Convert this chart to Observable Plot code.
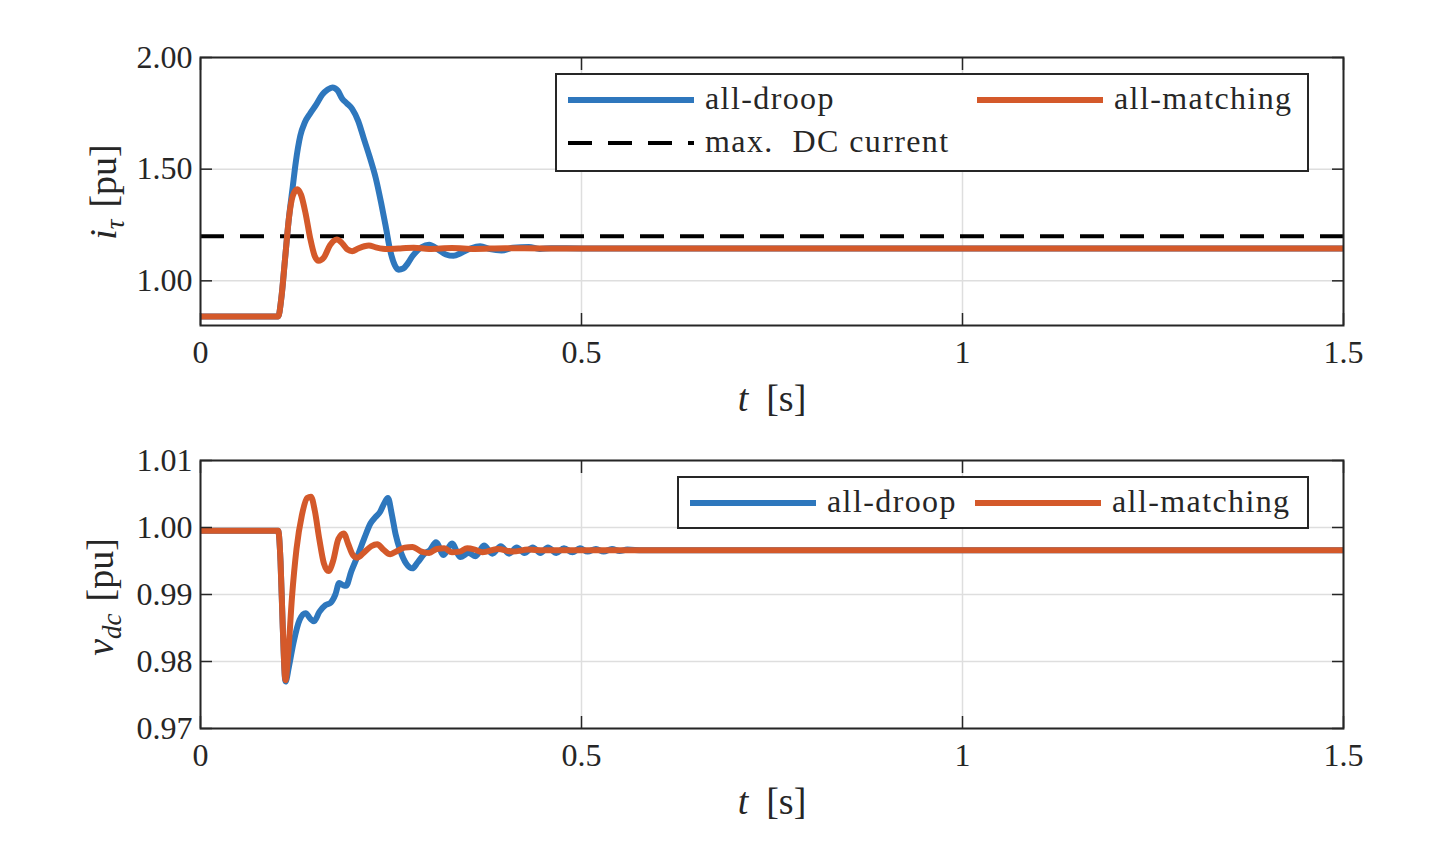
<!DOCTYPE html>
<html>
<head>
<meta charset="utf-8">
<script src="https://cdn.jsdelivr.net/npm/d3@7"></script>
<script src="https://cdn.jsdelivr.net/npm/@observablehq/plot@0.6"></script>
<style>
  html, body { margin: 0; padding: 0; background: #fff; }
  body { width: 1430px; height: 850px; overflow: hidden; position: relative; font-family: "Liberation Serif", "DejaVu Serif", serif; color: #262626; }
  .panel { position: absolute; left: 0; }
  #overlay { position: absolute; left: 0; top: 0; pointer-events: none; }
  svg text { font-family: "Liberation Serif", "DejaVu Serif", serif !important; }
</style>
</head>
<body>
<div id="top" class="panel" style="top:0"></div>
<div id="bot" class="panel" style="top:420px"></div>
<svg id="overlay" width="1430" height="850"></svg>
<script>
// ---------- data ----------
const xTicks = [0, 0.5, 1, 1.5];
const xTickLabels = ["0", "0.5", "1", "1.5"];
const yTicksTop = [1.0, 1.5, 2.0];
const yTicksBot = [0.97, 0.98, 0.99, 1.00, 1.01];
const seriesNames = ["all-droop", "all-matching"];
const maxDcCurrent = 1.2;

// top panel: i_tau [pu]
const tTopDroop = [0, 0.102, 0.106, 0.111, 0.116, 0.121, 0.125, 0.131, 0.137, 0.144, 0.152, 0.160, 0.167, 0.173, 0.180, 0.186, 0.192, 0.199, 0.207, 0.214, 0.222, 0.230, 0.237, 0.243, 0.249, 0.255, 0.260, 0.266, 0.272, 0.278, 0.290, 0.300, 0.312, 0.322, 0.332, 0.342, 0.355, 0.367, 0.380, 0.395, 0.410, 0.431, 0.445, 0.46, 0.5, 1.5];
const iTopDroop = [0.84, 0.84, 0.92, 1.10, 1.28, 1.42, 1.53, 1.65, 1.71, 1.75, 1.79, 1.835, 1.857, 1.866, 1.852, 1.815, 1.795, 1.77, 1.715, 1.64, 1.555, 1.46, 1.35, 1.245, 1.135, 1.07, 1.05, 1.055, 1.078, 1.11, 1.15, 1.162, 1.14, 1.118, 1.112, 1.125, 1.146, 1.155, 1.142, 1.136, 1.148, 1.152, 1.143, 1.146, 1.145, 1.145];

const tTopMatch = [0, 0.102, 0.106, 0.111, 0.116, 0.121, 0.127, 0.132, 0.138, 0.144, 0.150, 0.155, 0.162, 0.170, 0.179, 0.186, 0.193, 0.199, 0.207, 0.215, 0.221, 0.230, 0.245, 0.26, 0.28, 0.30, 0.33, 0.36, 0.40, 0.45, 1.5];
const iTopMatch = [0.84, 0.84, 0.92, 1.10, 1.28, 1.38, 1.41, 1.385, 1.30, 1.19, 1.11, 1.09, 1.105, 1.16, 1.185, 1.168, 1.14, 1.133, 1.145, 1.155, 1.158, 1.15, 1.142, 1.145, 1.148, 1.143, 1.147, 1.143, 1.146, 1.145, 1.145];

// bottom panel: v_dc [pu]
const tBotDroop = [0, 0.102, 0.105, 0.108, 0.1115, 0.116, 0.122, 0.130, 0.138, 0.144, 0.149, 0.156, 0.164, 0.171, 0.177, 0.182, 0.187, 0.191, 0.198, 0.206, 0.215, 0.223, 0.230, 0.236, 0.241, 0.246, 0.251, 0.256, 0.262, 0.270, 0.278, 0.285, 0.295, 0.301, 0.309, 0.319, 0.330, 0.341, 0.352, 0.361, 0.372, 0.383, 0.394, 0.405, 0.415, 0.425, 0.436, 0.446, 0.456, 0.467, 0.477, 0.488, 0.498, 0.508, 0.519, 0.529, 0.540, 0.550, 0.560, 0.580, 1.5];
const vBotDroop = [0.9995, 0.9995, 0.995, 0.985, 0.9770, 0.9792, 0.9828, 0.9862, 0.9872, 0.9864, 0.9860, 0.9874, 0.9884, 0.9888, 0.9900, 0.9917, 0.9914, 0.9913, 0.9935, 0.9957, 0.9984, 1.0006, 1.0016, 1.0024, 1.0036, 1.0044, 1.0020, 0.9990, 0.9966, 0.9946, 0.9939, 0.9948, 0.9962, 0.9966, 0.9978, 0.9959, 0.9976, 0.9956, 0.9962, 0.9957, 0.9973, 0.9961, 0.9972, 0.9961, 0.9970, 0.9962, 0.9970, 0.9962, 0.9970, 0.9962, 0.9969, 0.9963, 0.9969, 0.9964, 0.9968, 0.9964, 0.9968, 0.9965, 0.9967, 0.9966, 0.9966];

const tBotMatch = [0, 0.102, 0.105, 0.108, 0.1115, 0.115, 0.120, 0.126, 0.133, 0.140, 0.145, 0.150, 0.156, 0.162, 0.168, 0.174, 0.181, 0.188, 0.194, 0.200, 0.206, 0.214, 0.224, 0.232, 0.240, 0.249, 0.258, 0.268, 0.278, 0.290, 0.300, 0.310, 0.320, 0.330, 0.340, 0.350, 0.360, 0.370, 0.390, 0.410, 0.430, 0.450, 1.5];
const vBotMatch = [0.9995, 0.9995, 0.995, 0.985, 0.9772, 0.981, 0.9895, 0.9968, 1.0018, 1.0044, 1.0046, 1.0025, 0.9982, 0.9946, 0.9935, 0.9950, 0.9983, 0.9991, 0.9975, 0.9959, 0.9955, 0.9962, 0.9972, 0.9975, 0.9967, 0.9960, 0.9965, 0.9970, 0.9971, 0.9964, 0.9962, 0.9968, 0.9969, 0.9963, 0.9964, 0.9969, 0.9967, 0.9963, 0.9968, 0.9964, 0.9967, 0.9966, 0.9966];

// ---------- styles ----------
const BLUE = "#2e77bd";
const ORANGE = "#d4592a";
const AX = "#262626";
const GRID = "#dedede";
const FONT = "'Liberation Serif', 'DejaVu Serif', serif";

const toRows = (ts, vs, s) => ts.map((t, i) => ({t, v: vs[i], s}));

function panel({yDomain, yTicks, yFmt, data, extra, height, marginTop, marginBottom}) {
  const tickMarks = [
    Plot.axisX(xTicks, {anchor: "bottom", tickSize: 12, dy: -12, tickFormat: () => "", label: null, stroke: AX, strokeWidth: 1.5}),
    Plot.axisX(xTicks, {anchor: "top", tickSize: 12, dy: 12, tickFormat: () => "", label: null, stroke: AX, strokeWidth: 1.5}),
    Plot.axisY(yTicks, {anchor: "left", tickSize: 12, dx: 12, tickFormat: () => "", label: null, stroke: AX, strokeWidth: 1.5}),
    Plot.axisY(yTicks, {anchor: "right", tickSize: 12, dx: -12, tickFormat: () => "", label: null, stroke: AX, strokeWidth: 1.5})
  ];
  return Plot.plot({
    width: 1430, height, marginLeft: 200, marginRight: 87, marginTop, marginBottom,
    style: {fontFamily: FONT, fontSize: "32px", color: AX, background: "white", overflow: "visible"},
    x: {domain: [0, 1.5]},
    y: {domain: yDomain},
    marks: [
      Plot.gridX(xTicks, {stroke: GRID, strokeOpacity: 1, strokeWidth: 1.5}),
      Plot.gridY(yTicks, {stroke: GRID, strokeOpacity: 1, strokeWidth: 1.5}),
      ...extra,
      Plot.line(data, {x: "t", y: "v", z: "s", stroke: d => d.s === seriesNames[0] ? BLUE : ORANGE, strokeWidth: 6, curve: "monotone-x", strokeLinejoin: "round", strokeLinecap: "butt"}),
      Plot.frame({stroke: AX, strokeWidth: 2}),
      ...tickMarks,
      Plot.axisX(xTicks, {anchor: "bottom", tickSize: 0, tickPadding: 15, tickFormat: (d) => xTickLabels[xTicks.indexOf(d)], label: null, fill: AX}),
      Plot.axisY(yTicks, {anchor: "left", tickSize: 0, tickPadding: 8, tickFormat: yFmt, label: null, fill: AX})
    ]
  });
}

const topData = [...toRows(tTopDroop, iTopDroop, seriesNames[0]), ...toRows(tTopMatch, iTopMatch, seriesNames[1])];
const botData = [...toRows(tBotDroop, vBotDroop, seriesNames[0]), ...toRows(tBotMatch, vBotMatch, seriesNames[1])];

document.getElementById("top").appendChild(panel({
  yDomain: [0.8, 2.0], yTicks: yTicksTop, yFmt: d3.format(".2f"), data: topData,
  extra: [Plot.ruleY([maxDcCurrent], {stroke: "black", strokeWidth: 4, strokeDasharray: "24,16"})],
  height: 420, marginTop: 57, marginBottom: 95
}));
document.getElementById("bot").appendChild(panel({
  yDomain: [0.97, 1.01], yTicks: yTicksBot, yFmt: d3.format(".2f"), data: botData,
  extra: [],
  height: 430, marginTop: 40, marginBottom: 122
}));

// ---------- overlay: axis labels and legends ----------
const ov = d3.select("#overlay").style("font-family", FONT).attr("fill", AX);

function xLabel(cx, cy) {
  const t = ov.append("text").attr("x", cx).attr("y", cy).attr("dy", "0.35em").attr("text-anchor", "middle").attr("font-size", 38);
  t.append("tspan").attr("font-style", "italic").text("t");
  t.append("tspan").attr("dx", 18).text("[s]");
}
function yLabel(cx, cy, main, sub) {
  const g = ov.append("g").attr("transform", `translate(${cx},${cy}) rotate(-90)`);
  const t = g.append("text").attr("dy", "0.35em").attr("text-anchor", "middle").attr("font-size", 38);
  t.append("tspan").attr("font-style", "italic").text(main);
  t.append("tspan").attr("font-style", "italic").attr("font-size", 27).attr("dy", 8).text(sub);
  t.append("tspan").attr("dy", -8).attr("dx", 12).text("[pu]");
}
xLabel(772, 398);
xLabel(772, 801);
yLabel(103, 192, "i", "τ");
yLabel(100, 597, "v", "dc");

function legend(box, items) {
  ov.append("rect").attr("x", box[0]).attr("y", box[1]).attr("width", box[2]).attr("height", box[3])
    .attr("fill", "white").attr("stroke", AX).attr("stroke-width", 2);
  for (const it of items) {
    ov.append("line").attr("x1", it.x).attr("x2", it.x + 126).attr("y1", it.y).attr("y2", it.y)
      .attr("stroke", it.color).attr("stroke-width", it.dash ? 4 : 6).attr("stroke-dasharray", it.dash || null);
    ov.append("text").attr("x", it.x + 137).attr("y", it.y).attr("dy", "0.28em")
      .attr("font-size", 32).attr("letter-spacing", 1.4).text(it.label);
  }
}
legend([556, 74, 752, 97], [
  {x: 568, y: 100, color: BLUE, label: seriesNames[0]},
  {x: 977, y: 100, color: ORANGE, label: seriesNames[1]},
  {x: 568, y: 143, color: "black", dash: "24,16", label: "max.\u00a0\u00a0DC current"}
]);
legend([678, 477, 630, 51], [
  {x: 690, y: 503, color: BLUE, label: seriesNames[0]},
  {x: 975, y: 503, color: ORANGE, label: seriesNames[1]}
]);
</script>
</body>
</html>
